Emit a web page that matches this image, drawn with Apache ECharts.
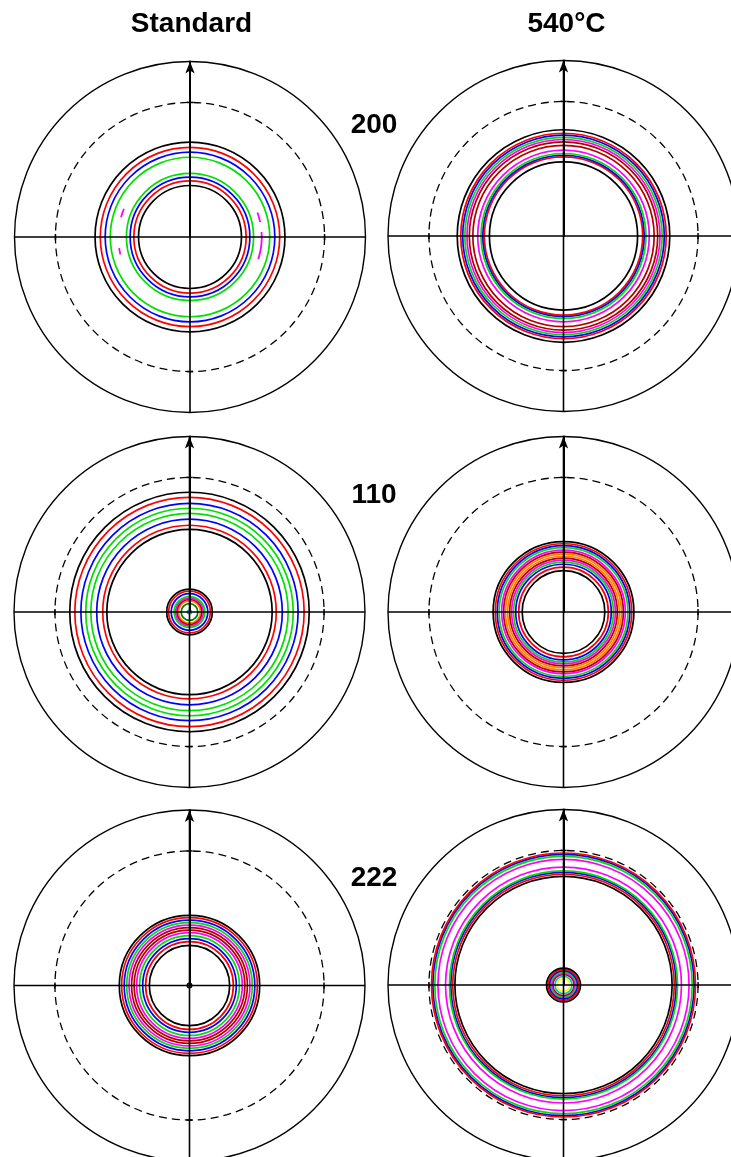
<!DOCTYPE html>
<html>
<head>
<meta charset="utf-8">
<script src="https://cdn.jsdelivr.net/npm/echarts@6/dist/echarts.min.js"></script>
<style>
  html, body { margin: 0; padding: 0; background: #ffffff; }
  #chart { width: 731px; height: 1157px; }
</style>
</head>
<body>
<div id="chart"></div>
<script>
// Column headings (sample state) and row headings (reflection)
const columnTitles = ['Standard', '540°C'];
const reflections = ['200', '110', '222'];

// Outer edge of the pole figure and the measured-tilt limit (psi, degrees)
const PSI_MAX = 90;
const PSI_LIMIT = 69;

// Contour rings: tilt angle psi (deg) and contour level (1 = lowest)
const std200Psi     = [26.4, 28.8, 30.7, 32.6, 40.9, 43.5, 46.0, 48.7];
const std200Level   = [1, 2, 3, 4, 4, 3, 2, 1];
const hot200Psi     = [38.0, 40.6, 41.4, 42.3, 44.0, 46.5, 48.3, 49.5, 50.6, 51.7, 52.7, 54.5];
const hot200Level   = [1, 2, 3, 4, 5, 6, 6, 5, 4, 3, 2, 1];
const std110Psi     = [1.0, 4.3, 5.7, 6.4, 7.1, 7.9, 9.4, 10.7, 11.7, 42.4, 44.5, 47.6, 50.6, 53.2, 55.7, 58.8, 61.4];
const std110Level   = [9, 8, 7, 6, 5, 4, 3, 2, 1, 1, 2, 3, 4, 4, 3, 2, 1];
const hot110Psi     = [21.2, 23.0, 24.5, 25.6, 26.6, 27.6, 28.6, 29.7, 30.7, 31.7, 33.0, 34.0, 35.0, 36.1];
const hot110Level   = [1, 2, 3, 4, 5, 6, 7, 7, 6, 5, 4, 3, 2, 1];
const std222Psi     = [1.1, 20.6, 22.5, 24.0, 25.6, 27.1, 28.4, 29.7, 31.0, 32.2, 33.5, 34.8, 36.0];
const std222Level   = [1, 1, 2, 3, 4, 5, 6, 6, 5, 4, 3, 2, 1];
const hot222Psi     = [3.3, 4.4, 5.5, 6.0, 6.5, 7.2, 7.9, 8.7, 55.7, 56.8, 57.8, 58.5, 60.5, 64.4, 66.0, 67.0, 67.7];
const hot222Level   = [10, 9, 6, 5, 4, 3, 2, 1, 1, 2, 3, 4, 5, 5, 4, 3, 2];

// Partial contour arcs: psi, azimuth from / to (deg, clockwise from top), level
const std200ArcPsi   = [36.8, 36.8, 36.8, 36.8];
const std200ArcFrom  = [70, 86, 256, 286];
const std200ArcTo    = [78, 108, 261, 293];
const std200ArcLevel = [5, 5, 5, 5];

// Contour level colours
const LEVEL_COLORS = ['#000000', '#ff0000', '#0000ff', '#00e000', '#ff00ff',
                      '#b00000', '#ff8000', '#008000', '#00c8c8', '#ffff00'];

// Panel layout: pixel centre of each pole figure, its radius, and its data
const R_PX = 175.5;
const panels = [
  { center: [190, 237],   psi: std200Psi, level: std200Level,
    arcs: { psi: std200ArcPsi, from: std200ArcFrom, to: std200ArcTo, level: std200ArcLevel } },
  { center: [563.5, 236], psi: hot200Psi, level: hot200Level },
  { center: [189.5, 612], psi: std110Psi, level: std110Level },
  { center: [563.5, 612], psi: hot110Psi, level: hot110Level },
  { center: [189.5, 985.5], psi: std222Psi, level: std222Level },
  { center: [563.5, 985], psi: hot222Psi, level: hot222Level }
];

function dist(a, b) { return Math.hypot(a[0] - b[0], a[1] - b[1]); }

function ringItem(params, api) {
  const c = api.coord([0, 0]);
  const p = api.coord([api.value(0), 0]);
  return {
    type: 'circle',
    shape: { cx: c[0], cy: c[1], r: dist(p, c) },
    style: { fill: 'none', stroke: LEVEL_COLORS[api.value(2) - 1], lineWidth: 1.7 }
  };
}

function arcItem(params, api) {
  const c = api.coord([0, 0]);
  const psi = api.value(0);
  const a = api.coord([psi, api.value(1)]);
  const b = api.coord([psi, api.value(2)]);
  const t1 = Math.atan2(a[1] - c[1], a[0] - c[0]);
  let t2 = Math.atan2(b[1] - c[1], b[0] - c[0]);
  if (t2 < t1) t2 += Math.PI * 2;
  return {
    type: 'arc',
    shape: { cx: c[0], cy: c[1], r: dist(a, c), startAngle: t1, endAngle: t2, clockwise: true },
    style: { fill: 'none', stroke: LEVEL_COLORS[api.value(3) - 1], lineWidth: 1.8 }
  };
}

// Dashed tilt-limit circle with short ticks where it crosses the axes
function limitItem(params, api) {
  const c = api.coord([0, 0]);
  const psi = api.value(0);
  const p0 = api.coord([psi, 0]);
  const children = [{
    type: 'circle',
    shape: { cx: c[0], cy: c[1], r: dist(p0, c) },
    style: { fill: 'none', stroke: '#000', lineWidth: 1.3, lineDash: [8, 5] }
  }];
  [0, 90, 180, 270].forEach(function (az) {
    const p = api.coord([psi, az]);
    const d = dist(p, c);
    const nx = -(p[1] - c[1]) / d * 3, ny = (p[0] - c[0]) / d * 3;
    children.push({
      type: 'line',
      shape: { x1: p[0] - nx, y1: p[1] - ny, x2: p[0] + nx, y2: p[1] + ny },
      style: { stroke: '#000', lineWidth: 1.5 }
    });
  });
  return { type: 'group', children: children };
}

const polar = [], angleAxis = [], radiusAxis = [], series = [];
panels.forEach(function (pn, i) {
  polar.push({ center: pn.center, radius: R_PX });
  angleAxis.push({
    polarIndex: i, type: 'value', min: 0, max: 360, interval: 90,
    startAngle: 90, clockwise: true, z: 5,
    axisLine: { show: true, lineStyle: { color: '#000', width: 1.4 } },
    axisTick: { show: false }, axisLabel: { show: false },
    splitLine: { show: true, lineStyle: { color: '#000', width: 1.6 } }
  });
  radiusAxis.push({
    polarIndex: i, type: 'value', min: 0, max: PSI_MAX, z: 6,
    axisLine: { show: true, symbol: ['none', 'arrow'], symbolSize: [7, 12],
                lineStyle: { color: '#000', width: 2 } },
    axisTick: { show: false }, axisLabel: { show: false }, splitLine: { show: false }
  });
  series.push({
    type: 'custom', coordinateSystem: 'polar', polarIndex: i, silent: true, z: 2,
    encode: { radius: 0, angle: 1 },
    data: pn.psi.map(function (v, k) { return [v, 0, pn.level[k]]; }),
    renderItem: ringItem
  });
  if (pn.arcs) {
    series.push({
      type: 'custom', coordinateSystem: 'polar', polarIndex: i, silent: true, z: 2,
      encode: { radius: 0, angle: 1 },
      data: pn.arcs.psi.map(function (v, k) {
        return [v, pn.arcs.from[k], pn.arcs.to[k], pn.arcs.level[k]];
      }),
      renderItem: arcItem
    });
  }
  series.push({
    type: 'custom', coordinateSystem: 'polar', polarIndex: i, silent: true, z: 3,
    encode: { radius: 0, angle: 1 },
    data: [[PSI_LIMIT, 0]],
    renderItem: limitItem
  });
});

const FONT = { fontFamily: 'Liberation Sans, Arial, sans-serif', fontWeight: 'bold', fontSize: 28, fill: '#000' };
const headingPos = [[191.5, 24], [566.5, 24]];
const rowLabelPos = [[374, 125], [374, 495], [374, 878]];
const graphic = [];
columnTitles.forEach(function (t, i) {
  graphic.push({ type: 'text', x: headingPos[i][0], y: headingPos[i][1], z: 10,
    style: Object.assign({ text: t, align: 'center', verticalAlign: 'middle' }, FONT) });
});
reflections.forEach(function (t, i) {
  graphic.push({ type: 'text', x: rowLabelPos[i][0], y: rowLabelPos[i][1], z: 10,
    style: Object.assign({ text: t, align: 'center', verticalAlign: 'middle' }, FONT) });
});

const chart = echarts.init(document.getElementById('chart'), null, { renderer: 'canvas' });
chart.setOption({
  backgroundColor: '#ffffff',
  animation: false,
  polar: polar,
  angleAxis: angleAxis,
  radiusAxis: radiusAxis,
  series: series,
  graphic: graphic
});
</script>
</body>
</html>
